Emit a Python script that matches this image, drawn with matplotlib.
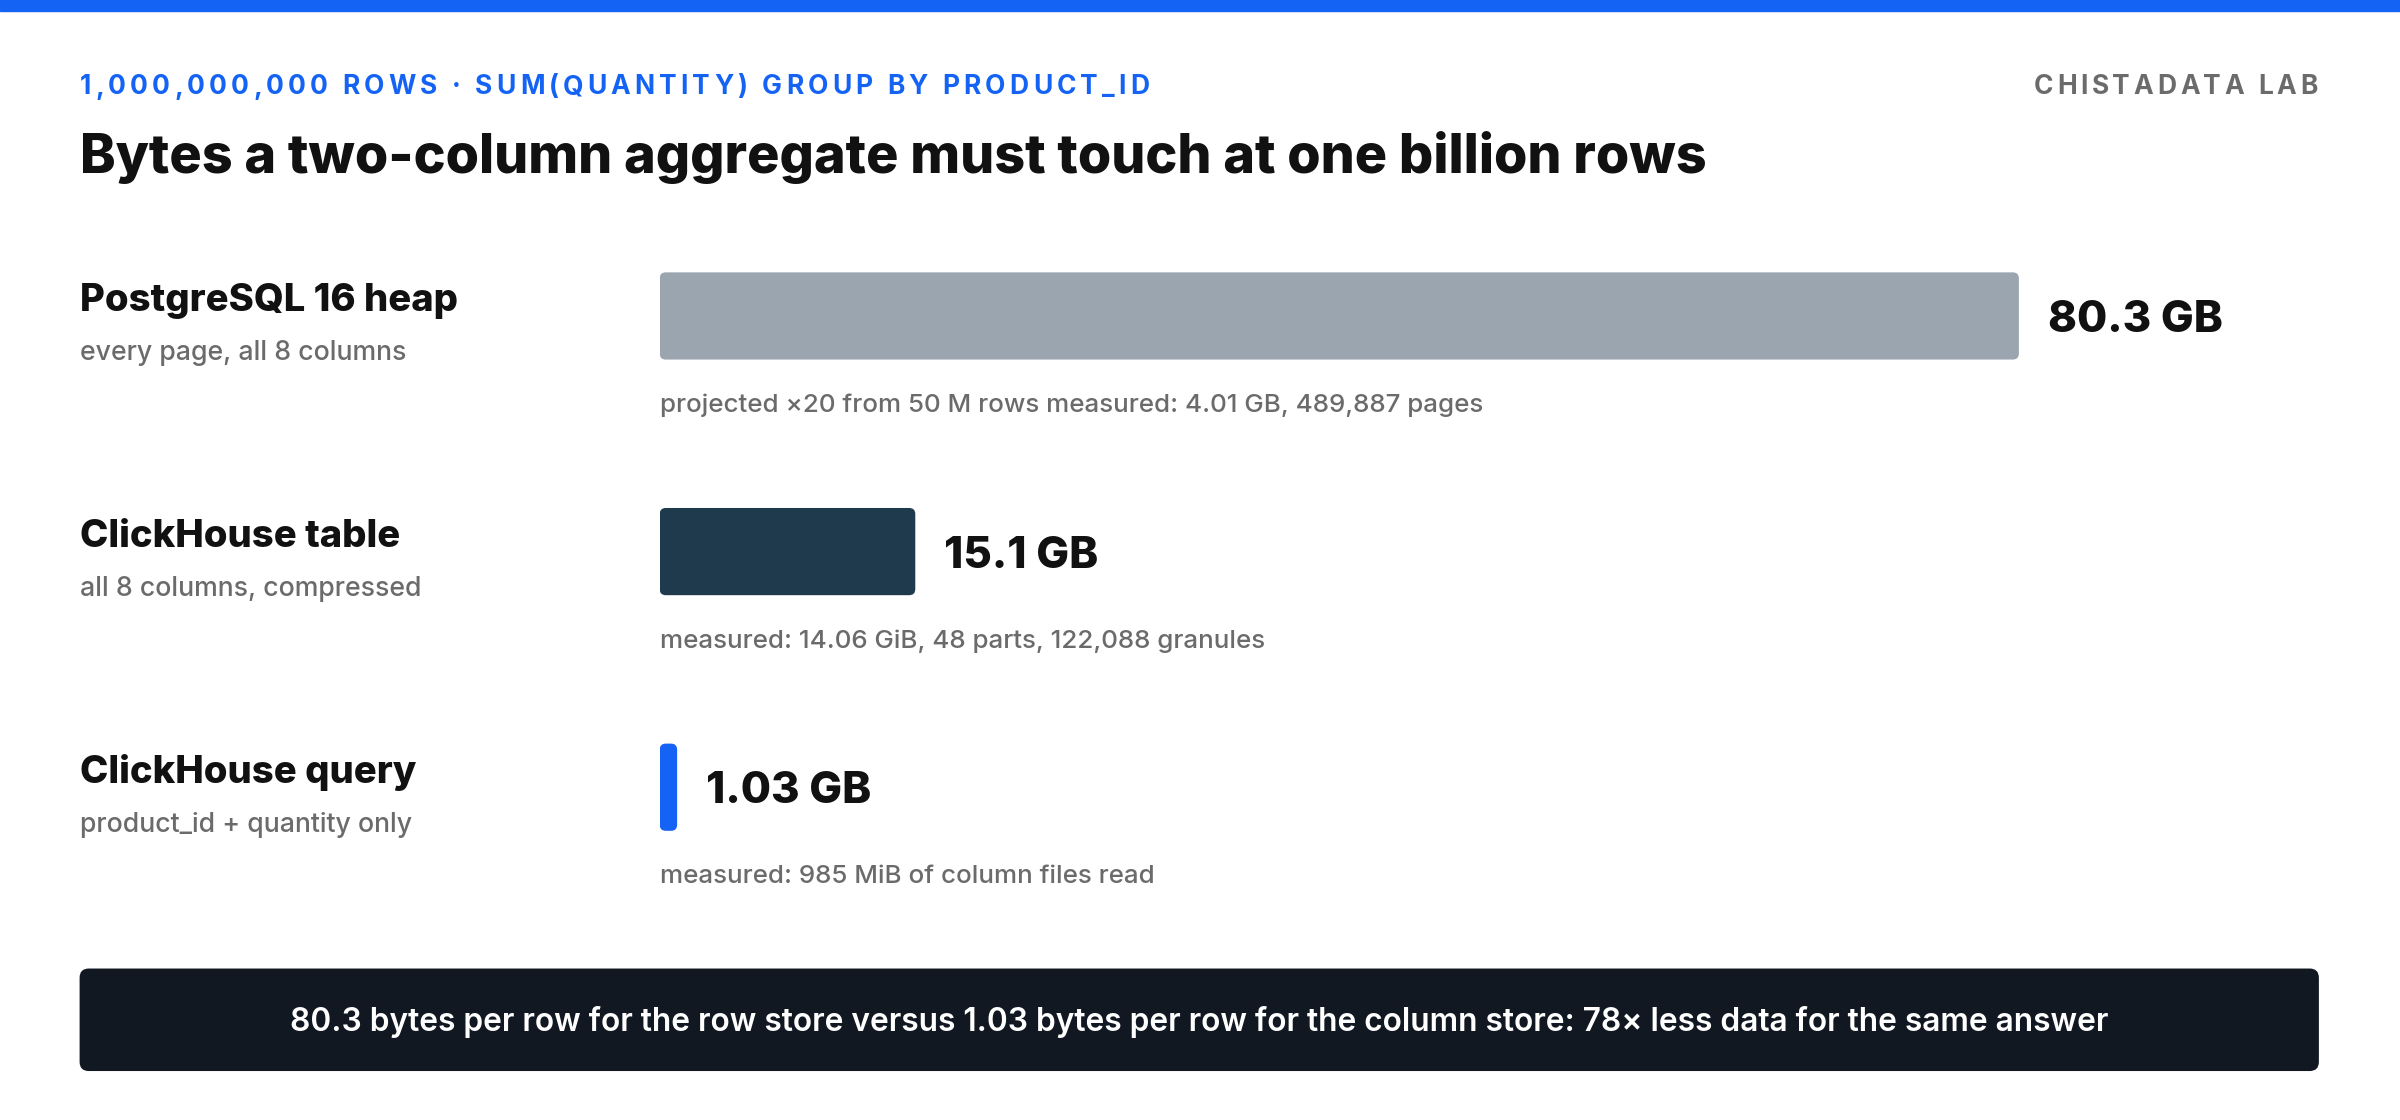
import matplotlib
matplotlib.use("Agg")
import matplotlib.pyplot as plt
from matplotlib.patches import FancyBboxPatch, Rectangle

plt.rcParams['font.family'] = ['Inter', 'DejaVu Sans']

names = ["PostgreSQL 16 heap", "ClickHouse table", "ClickHouse query"]
subs = ["every page, all 8 columns", "all 8 columns, compressed", "product_id + quantity only"]
values = [80.3, 15.1, 1.03]
value_labels = ["80.3 GB", "15.1 GB", "1.03 GB"]
notes = ["projected ×20 from 50 M rows measured: 4.01 GB, 489,887 pages",
         "measured: 14.06 GiB, 48 parts, 122,088 granules",
         "measured: 985 MiB of column files read"]
colors = ["#9aa5b0", "#1e3a4c", "#1463f5"]

W, H = 1568, 732
fig = plt.figure(figsize=(24, 11.2), dpi=100)
fig.patch.set_facecolor("white")
ax = fig.add_axes([0, 0, 1, 1])
ax.set_xlim(0, W); ax.set_ylim(H, 0); ax.axis("off")
renderer = fig.canvas.get_renderer()
sc = 2400 / W


def tracked(x, y, s, spacing, ha="left", **kw):
    # draw text with letter spacing (spacing in reference px)
    widths = []
    for ch in s:
        t = ax.text(0, 0, ch, **kw)
        widths.append(t.get_window_extent(renderer).width / sc if ch != " " else None)
        t.remove()
    sp = ax.text(0, 0, "a a", **kw); w2 = sp.get_window_extent(renderer).width / sc; sp.remove()
    sa = ax.text(0, 0, "aa", **kw); w1 = sa.get_window_extent(renderer).width / sc; sa.remove()
    space_w = w2 - w1
    widths = [w if w is not None else space_w for w in widths]
    total = sum(widths) + spacing * (len(s) - 1)
    cx = x if ha == "left" else x - total
    for ch, w in zip(s, widths):
        ax.text(cx, y, ch, ha="left", va="center", **kw)
        cx += w + spacing


ax.add_patch(Rectangle((0, 0), W, 7, color="#1463f5"))
tracked(52, 57, "1,000,000,000 ROWS · SUM(QUANTITY) GROUP BY PRODUCT_ID", 2.7,
        color="#1463f5", fontsize=19, fontweight="bold")
tracked(1514, 57, "CHISTADATA LAB", 2.4, ha="right", color="#6b6b6b", fontsize=19, fontweight="bold")
ax.text(52, 103, "Bytes a two-column aggregate must touch at one billion rows", color="#111111",
        fontsize=38.8, fontweight="heavy", va="center", ha="left")

x0, x1 = 431, 1319
bx = fig.add_axes([x0 / W, 0, (x1 - x0) / W, 1])
vmax = values[0]
bx.set_xlim(0, vmax); bx.set_ylim(H, 0); bx.axis("off")
ppu = (x1 - x0) / vmax  # pixels per unit

tops = [178, 332, 486]
bh = 57
for i, v in enumerate(values):
    t = tops[i]
    r = min(4 / ppu, v / 2)
    bx.add_patch(FancyBboxPatch((0, t), v, bh, boxstyle=f"round,pad=0,rounding_size={r}",
                                mutation_aspect=ppu, color=colors[i], lw=0))
    bx.text(v + 19 / ppu, t + bh / 2 + 3, value_labels[i], fontsize=31.5, fontweight="heavy",
            color="#111111", va="center", ha="left")
    bx.text(0, t + 87, notes[i], fontsize=18.7, color="#6b6b6b", fontweight="medium",
            va="center", ha="left")
    ax.text(52, t + 19, names[i], fontsize=27.5, fontweight="heavy", color="#111111",
            va="center", ha="left")
    ax.text(52, t + 53, subs[i], fontsize=19.2, color="#6b6b6b", fontweight="medium",
            va="center", ha="left")

ax.add_patch(FancyBboxPatch((52, 633), 1463, 67, boxstyle="round,pad=0,rounding_size=6",
                            color="#111822", lw=0))
ax.text((52 + 1515) / 2, 668, "80.3 bytes per row for the row store versus 1.03 bytes per row for the column store: 78× less data for the same answer",
        fontsize=22.8, fontweight="semibold", color="white", va="center", ha="center")

fig.savefig("out.png", dpi=100, facecolor="white")
